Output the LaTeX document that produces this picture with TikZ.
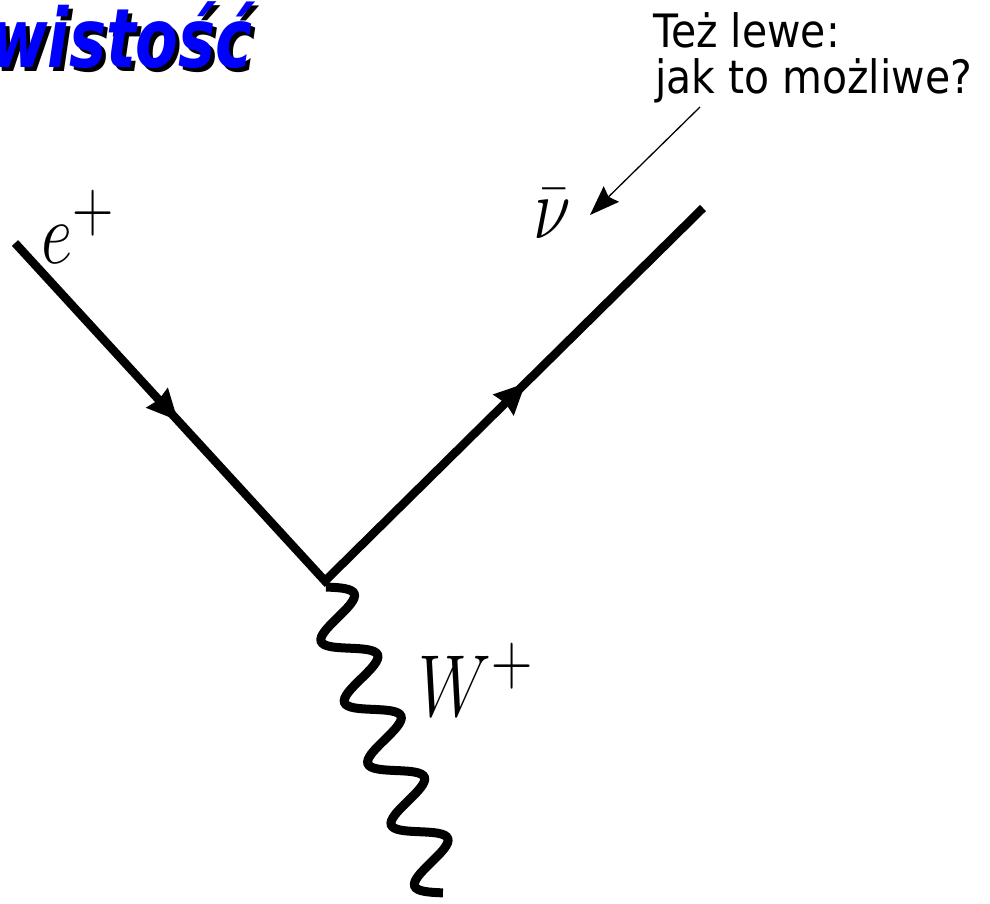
\documentclass[tikz,border=0pt]{standalone}
\usepackage{fontspec}
\newfontfamily\djs{DejaVu Sans}
\usetikzlibrary{arrows.meta,decorations.markings}
\definecolor{titleblue}{RGB}{0,0,255}
\tikzset{
  fermionline/.style={line width=8.5pt, line join=miter},
  fermiontip/.style={decoration={markings, mark=at position #1 with {\arrow{Stealth[length=31pt,width=30pt,inset=3pt,line width=0pt]}}}, decorate},
  boson/.style={line width=9pt, line cap=butt},
  mathlabel/.style={anchor=base west, inner sep=0pt, font=\Huge, xscale=2.76, yscale=3.54},
  titletext/.style={anchor=base west, inner sep=0pt, xscale=0.76, font=\djs\bfseries\itshape\fontsize{82}{90}\selectfont},
  notetext/.style={anchor=base west, inner sep=0pt, xscale=0.89, font=\djs\fontsize{46}{46}\selectfont},
  pointer/.style={line width=1.3pt, -{Stealth[length=30pt,width=22pt,inset=4pt,line width=0pt]}}
}
\begin{document}
\begin{tikzpicture}[x=1pt,y=-1pt]
\useasboundingbox (0,0) rectangle (990,903);
% title
\node[titletext, text=black] (titleshadow) at (-6,71) {wistość};
\node[titletext, text=titleblue] (title) at (-10,67) {wistość};
% note
\node[notetext] (note1) at (653,47) {Też lewe:};
\node[notetext] (note2) at (655,93) {jak to możliwe?};
% diagram coordinates
\coordinate (ein) at (15,243);
\coordinate (v) at (325,581);
\coordinate (nuout) at (703,208);
% fermion lines
\draw[fermionline] (ein) -- (v) -- (nuout);
\path[fermiontip=0.525] (ein) -- (v);
\path[fermiontip=0.53] (v) -- (nuout);
% boson (sine wave along the axis from (326,587) to (443,893))
\draw[boson] plot[smooth, domain=0:327.5, samples=161]
  ({326+0.357*\x+22.4*sin(5.4962*\x)},{587+0.934*\x-8.57*sin(5.4962*\x)});
% labels
\node[mathlabel] (elab) at (41,263) {$e^+$};
\node[mathlabel] (nulab) at (533,238) {$\bar\nu$};
\node[mathlabel] (wlab) at (418,716) {$W^+$};
% pointer
\coordinate (ptail) at (700,107);
\coordinate (phead) at (590,215);
\draw[pointer] (ptail) -- (phead);
\end{tikzpicture}
\end{document}
